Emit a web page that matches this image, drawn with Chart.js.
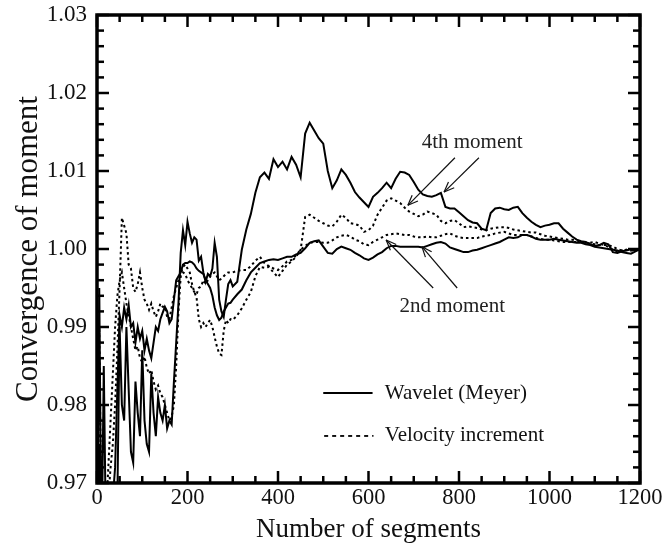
<!DOCTYPE html>
<html><head><meta charset="utf-8">
<script src="https://cdn.jsdelivr.net/npm/chart.js@4/dist/chart.umd.min.js"></script>
<style>html,body{margin:0;padding:0;background:#fff}#wrap{width:664px;height:546px}</style>
</head><body><div id="wrap"><canvas id="c" width="664" height="546"></canvas></div>
<script>
// ---- data ----
const segments = [
0,5,10,15,20,25,30,35,40,45,50,55,60,65,70,75,80,85,90,95,
100,105,110,115,120,125,130,135,140,145,150,155,160,165,170,175,180,185,190,195,
200,205,210,215,220,225,230,235,240,245,250,255,260,265,270,275,280,285,290,295,300,
310,320,330,340,350,360,370,380,390,400,
410,420,430,440,450,460,470,480,490,500,
510,520,530,540,550,560,570,580,590,600,
610,620,630,640,650,660,670,680,690,700,
710,720,730,740,750,760,770,780,790,800,
810,820,830,840,850,860,870,880,890,900,
910,920,930,940,950,960,970,980,990,1000,
1010,1020,1030,1040,1050,1060,1070,1080,1090,1100,
1110,1120,1130,1140,1150,1160,1170,1180,1190,1200];

const wavelet4th = [
0.955,0.995,0.960,0.985,0.962,0.968,0.960,0.965,0.962,0.968,0.990,0.980,0.978,0.990,0.982,0.974,0.9726,0.983,0.979,0.976,
0.987,0.978,0.975,0.974,0.984,0.979,0.976,0.981,0.979,0.978,0.980,0.977,0.978,0.9775,0.983,0.988,0.993,0.9995,1.0024,1.0005,
1.0035,1.0020,1.0008,1.0015,1.0012,0.9985,0.9990,0.9970,0.9958,0.9968,0.9965,0.9975,1.0008,0.9990,0.9935,0.9920,0.9913,0.9935,0.9955,0.9960,0.9952,
0.9958,0.9999,1.0025,1.0045,1.0072,1.0092,1.0098,1.0090,1.0115,1.0105,
1.0112,1.0102,1.0118,1.0108,1.0092,1.0148,1.0162,1.0152,1.0142,1.0135,
1.0100,1.0078,1.0088,1.0102,1.0095,1.0085,1.0073,1.0066,1.0060,1.0054,
1.0067,1.0072,1.0078,1.0085,1.0078,1.0090,1.0099,1.0098,1.0095,1.0086,
1.0076,1.0070,1.0068,1.0067,1.0069,1.0072,1.0054,1.0052,1.0052,1.0047,
1.0042,1.0037,1.0034,1.0033,1.0026,1.0024,1.0046,1.0052,1.0053,1.0051,
1.0050,1.0053,1.0054,1.0046,1.0040,1.0035,1.0031,1.0028,1.0030,1.0031,
1.0033,1.0033,1.0026,1.0021,1.0016,1.0012,1.0010,1.0009,1.0006,1.0004,
1.0005,1.0008,1.0006,0.9996,0.9995,0.9997,0.9998,1.0000,0.9998,1.0000];

const wavelet2nd = [
0.965,0.975,0.958,0.970,0.960,0.965,0.962,0.968,0.972,0.982,0.9915,0.990,0.9925,0.991,0.9928,0.990,0.9905,0.988,0.990,0.9885,
0.9895,0.987,0.9885,0.987,0.986,0.988,0.990,0.9895,0.991,0.9918,0.9926,0.992,0.9905,0.991,0.9935,0.996,0.9965,0.997,0.998,0.9982,
0.9982,0.9984,0.9983,0.998,0.9975,0.9972,0.997,0.9968,0.996,0.9955,0.995,0.994,0.9925,0.9915,0.9909,0.9912,0.992,0.9925,0.993,0.9931,0.9935,
0.9942,0.9948,0.9960,0.9970,0.9976,0.9982,0.9984,0.9986,0.9987,0.9986,
0.9988,0.9990,0.9990,0.9993,0.9995,1.0001,1.0008,1.0010,1.0011,1.0003,
0.9995,0.9994,1.0000,1.0003,1.0001,0.9999,0.9995,0.9992,0.9988,0.9986,
0.9989,0.9993,0.9996,1.0001,1.0004,1.0004,1.0003,1.0003,1.0003,1.0003,
1.0003,1.0002,1.0004,1.0006,1.0008,1.0009,1.0007,1.0002,1.0000,0.9998,
0.9996,0.9996,0.9998,0.9999,1.0001,1.0003,1.0005,1.0007,1.0009,1.0012,
1.0015,1.0014,1.0015,1.0018,1.0018,1.0016,1.0013,1.0012,1.0012,1.0012,
1.0013,1.0012,1.0011,1.0010,1.0009,1.0008,1.0008,1.0006,1.0005,1.0003,
1.0002,1.0001,1.0000,0.9999,0.9998,0.9996,0.9995,0.9994,0.9997,1.0000];

const velocity4th = [
0.960,0.990,0.962,0.965,0.963,0.968,0.972,0.975,0.980,0.987,0.995,1.004,1.003,1.002,0.998,0.9975,0.995,0.9945,0.9955,0.997,
0.995,0.9935,0.993,0.9922,0.993,0.992,0.9913,0.992,0.993,0.9926,0.9926,0.9913,0.991,0.9925,0.994,0.995,0.996,0.9968,0.9977,0.998,
0.9975,0.997,0.9955,0.9945,0.9938,0.991,0.990,0.9905,0.990,0.9905,0.9909,0.990,0.9887,0.9875,0.9866,0.9864,0.9895,0.9909,0.9905,0.991,0.9909,
0.9915,0.9924,0.9935,0.9945,0.9965,0.9977,0.9976,0.9977,0.9970,0.9964,
0.9972,0.9980,0.9984,0.9990,0.9999,1.0041,1.0044,1.0040,1.0036,1.0033,
1.0030,1.0029,1.0035,1.0044,1.0040,1.0033,1.0032,1.0030,1.0022,1.0024,
1.0030,1.0044,1.0053,1.0062,1.0065,1.0062,1.0059,1.0053,1.0048,1.0045,
1.0042,1.0044,1.0048,1.0046,1.0044,1.0036,1.0033,1.0036,1.0037,1.0033,
1.0028,1.0029,1.0028,1.0027,1.0025,1.0024,1.0026,1.0027,1.0028,1.0028,
1.0027,1.0025,1.0024,1.0023,1.0022,1.0021,1.0021,1.0019,1.0017,1.0016,
1.0015,1.0014,1.0013,1.0012,1.0012,1.0011,1.0009,1.0008,1.0007,1.0006,
1.0005,1.0005,1.0005,1.0003,1.0000,0.9998,0.9999,0.9998,0.9999,1.0000];

const velocity2nd = [
0.958,0.968,0.955,0.962,0.966,0.972,0.978,0.984,0.990,0.994,0.996,0.997,0.995,0.993,0.9915,0.990,0.9885,0.987,0.9875,0.986,
0.9855,0.9862,0.9848,0.984,0.9845,0.983,0.982,0.9825,0.9815,0.981,0.980,0.979,0.978,0.9785,0.980,0.985,0.992,0.9965,0.997,0.9968,
0.996,0.9955,0.995,0.9945,0.9942,0.995,0.9952,0.996,0.9955,0.996,0.9965,0.9968,0.997,0.9965,0.996,0.9962,0.9965,0.9968,0.997,0.997,0.997,
0.9972,0.9973,0.9973,0.9978,0.9985,0.9990,0.9982,0.9978,0.9975,0.9973,
0.9978,0.9984,0.9986,0.9992,0.9999,1.0004,1.0008,1.0009,1.0009,1.0008,
1.0008,1.0011,1.0015,1.0017,1.0018,1.0016,1.0012,1.0010,1.0006,1.0005,
1.0009,1.0012,1.0015,1.0018,1.0019,1.0020,1.0019,1.0018,1.0018,1.0016,
1.0015,1.0015,1.0016,1.0015,1.0015,1.0017,1.0019,1.0020,1.0017,1.0015,
1.0014,1.0014,1.0014,1.0014,1.0016,1.0017,1.0018,1.0020,1.0021,1.0022,
1.0020,1.0018,1.0018,1.0018,1.0018,1.0016,1.0014,1.0013,1.0012,1.0012,
1.0011,1.0010,1.0009,1.0009,1.0009,1.0009,1.0009,1.0008,1.0008,1.0009,
1.0007,1.0005,1.0003,0.9999,0.9996,0.9998,0.9999,0.9998,0.9999,1.0000];

const seriesNames = ['Wavelet (Meyer)', 'Velocity increment'];
const noteTexts = ['4th moment', '2nd moment'];

// ---- annotation / legend placement (data units) ----
const layoutNotes = {
  texts: [[829, 1.0137], [785, 0.9926]],
  arrows: [[791,1.0117,687,1.0056],[844,1.0117,767,1.0073],[743,0.9950,639,1.00115],[796,0.9950,718,1.0003]],
  legendRows: [[500, 609, 0.98154], [502, 611, 0.97603]],
  legendTextX: 636
};

const SERIF = '"Liberation Serif","Times New Roman",Times,serif';
const pts = arr => segments.map((s, i) => ({x: s, y: arr[i]}));

const decor = {
  id: 'decor',
  afterDatasetsDraw(chart) {
    const {ctx, chartArea: a, scales: {x, y}} = chart;
    ctx.save();
    ctx.strokeStyle = '#000';
    ctx.lineCap = 'butt';
    const seg = (x1, y1, x2, y2) => { ctx.beginPath(); ctx.moveTo(x1, y1); ctx.lineTo(x2, y2); ctx.stroke(); };
    // inward ticks on all sides
    ctx.lineWidth = 2.5;
    for (let v = 0; v <= 1200; v += 50) {
      const px = x.getPixelForValue(v);
      const len = v % 200 === 0 ? 12 : 7;
      seg(px, a.bottom, px, a.bottom - len);
      seg(px, a.top, px, a.top + len);
    }
    for (let k = 0; k <= 30; k++) {
      const v = 0.97 + k * 0.002;
      const py = y.getPixelForValue(v);
      const len = k % 5 === 0 ? 12 : 7;
      seg(a.left, py, a.left + len, py);
      seg(a.right, py, a.right - len, py);
    }
    ctx.lineWidth = 3.5;
    ctx.strokeRect(a.left, a.top, a.right - a.left, a.bottom - a.top);

    // annotations
    ctx.fillStyle = '#222';
    ctx.font = '21px ' + SERIF;
    ctx.textAlign = 'center';
    ctx.textBaseline = 'middle';
    noteTexts.forEach((t, i) => {
      const [vx, vy] = layoutNotes.texts[i];
      ctx.fillText(t, x.getPixelForValue(vx), y.getPixelForValue(vy));
    });
    ctx.lineWidth = 1.2;
    ctx.strokeStyle = '#111';
    layoutNotes.arrows.forEach(([x1v, y1v, x2v, y2v]) => {
      const x1 = x.getPixelForValue(x1v), y1 = y.getPixelForValue(y1v);
      const x2 = x.getPixelForValue(x2v), y2 = y.getPixelForValue(y2v);
      seg(x1, y1, x2, y2);
      const ang = Math.atan2(y1 - y2, x1 - x2);
      const L = 11, w = 0.38;
      seg(x2, y2, x2 + L * Math.cos(ang + w), y2 + L * Math.sin(ang + w));
      seg(x2, y2, x2 + L * Math.cos(ang - w), y2 + L * Math.sin(ang - w));
    });

    // legend
    ctx.strokeStyle = '#000';
    ctx.fillStyle = '#111';
    ctx.textAlign = 'left';
    ctx.font = '21px ' + SERIF;
    layoutNotes.legendRows.forEach(([xa, xb, vy], i) => {
      const py = y.getPixelForValue(vy);
      ctx.lineWidth = i === 0 ? 2.2 : 1.8;
      ctx.setLineDash(i === 0 ? [] : [4, 4]);
      seg(x.getPixelForValue(xa), py, x.getPixelForValue(xb), py);
      ctx.setLineDash([]);
      ctx.fillText(seriesNames[i], x.getPixelForValue(layoutNotes.legendTextX), py);
    });
    ctx.restore();
  }
};

const solid = {borderColor: '#000', borderWidth: 2, pointRadius: 0, tension: 0, fill: false};
const dotted = {borderColor: '#000', borderWidth: 2, pointRadius: 0, tension: 0, fill: false, borderDash: [2.5, 3]};

new Chart(document.getElementById('c'), {
  type: 'line',
  data: {
    datasets: [
      Object.assign({label: 'Wavelet 4th', data: pts(wavelet4th)}, solid),
      Object.assign({label: 'Wavelet 2nd', data: pts(wavelet2nd)}, solid),
      Object.assign({label: 'Velocity 4th', data: pts(velocity4th)}, dotted),
      Object.assign({label: 'Velocity 2nd', data: pts(velocity2nd)}, dotted)
    ]
  },
  options: {
    responsive: false,
    animation: false,
    devicePixelRatio: 1,
    layout: {padding: {top: 15, right: 24, left: 0, bottom: 0}},
    plugins: {legend: {display: false}, tooltip: {enabled: false}},
    scales: {
      x: {
        type: 'linear', min: 0, max: 1200,
        grid: {display: false, drawTicks: false},
        border: {display: false},
        ticks: {stepSize: 200, color: '#111', font: {family: SERIF, size: 22.5}, padding: 2, maxRotation: 0,
                callback: v => String(v)},
        title: {display: true, text: 'Number of segments', color: '#111', font: {family: SERIF, size: 27}, padding: {top: 0, bottom: 0}},
        afterFit: s => { s.height = 63; s.paddingLeft = 0; s.paddingRight = 0; }
      },
      y: {
        type: 'linear', min: 0.97, max: 1.03,
        grid: {display: false, drawTicks: false},
        border: {display: false},
        ticks: {stepSize: 0.01, color: '#111', font: {family: SERIF, size: 23}, padding: 10,
                callback: v => Number(v).toFixed(2)},
        title: {display: true, text: 'Convergence of moment', color: '#111', font: {family: SERIF, size: 31}, padding: {top: 10, bottom: 0}},
        afterFit: s => { s.width = 97; s.paddingTop = 0; s.paddingBottom = 0; }
      }
    }
  },
  plugins: [decor]
});
</script>
</body></html>
